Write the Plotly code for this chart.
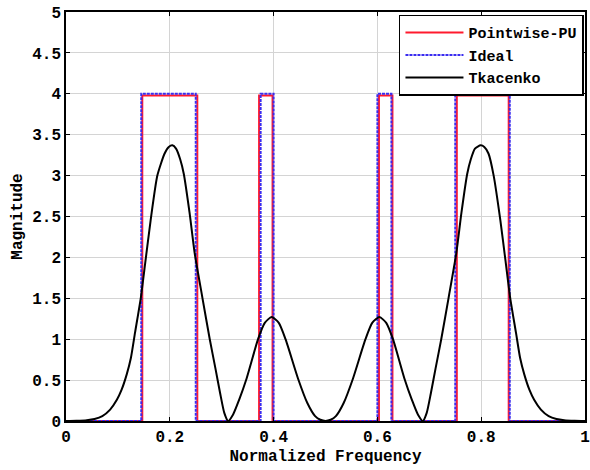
import plotly.graph_objects as go

# Ideal filter (step edges, 'hv' shape)
ideal_f = [0, 0.145, 0.25, 0.375, 0.4, 0.6, 0.627, 0.75, 0.855, 1.0]
ideal_mag = [0, 4, 0, 4, 0, 4, 0, 4, 0, 0]

# Pointwise-PU filter
pw_f = [0, 0.147, 0.253, 0.372, 0.398, 0.603, 0.629, 0.753, 0.853, 1.0]
pw_mag = [0, 3.98, 0, 3.98, 0, 3.98, 0, 3.98, 0, 0]

# Tkacenko response
tk_f = [0, 0.02, 0.04, 0.055, 0.07, 0.085, 0.098, 0.107, 0.117, 0.125, 0.133,
        0.144, 0.153, 0.163, 0.176, 0.19, 0.198, 0.205, 0.212, 0.22, 0.227,
        0.238, 0.248, 0.263, 0.277, 0.288, 0.297, 0.305, 0.3125,
        0.322, 0.333, 0.348, 0.37, 0.383, 0.396, 0.41, 0.423,
        0.447, 0.465, 0.48, 0.49, 0.5, 0.51, 0.52, 0.535, 0.553, 0.577, 0.59, 0.604,
        0.617, 0.63, 0.652, 0.667, 0.678, 0.6875,
        0.695, 0.703, 0.712, 0.723, 0.737, 0.752, 0.762, 0.773, 0.78, 0.788,
        0.799, 0.806, 0.814, 0.824, 0.837, 0.847, 0.856, 0.867, 0.875, 0.883,
        0.893, 0.902, 0.915, 0.93, 0.945, 0.96, 0.98, 1.0]
tk_mag = [0, 0.003, 0.01, 0.025, 0.06, 0.14, 0.26, 0.38, 0.57, 0.77, 1.08,
          1.5, 1.95, 2.45, 3.0, 3.27, 3.35, 3.37, 3.33, 3.2, 3.02,
          2.55, 2.05, 1.5, 1.0, 0.64, 0.34, 0.1, 0.0,
          0.08, 0.25, 0.52, 1.0, 1.2, 1.27, 1.2, 1.0,
          0.52, 0.22, 0.06, 0.015, 0.0, 0.015, 0.06, 0.22, 0.52, 1.0, 1.2, 1.27,
          1.2, 1.0, 0.52, 0.25, 0.08, 0.0,
          0.1, 0.34, 0.64, 1.0, 1.5, 2.05, 2.55, 3.02, 3.2, 3.33,
          3.37, 3.35, 3.27, 3.0, 2.45, 1.95, 1.5, 1.08, 0.77, 0.57,
          0.38, 0.26, 0.14, 0.06, 0.025, 0.01, 0.003, 0]

x_ticks = [0, 0.2, 0.4, 0.6, 0.8, 1]
x_labels = ["0", "0.2", "0.4", "0.6", "0.8", "1"]
y_ticks = [0, 0.5, 1, 1.5, 2, 2.5, 3, 3.5, 4, 4.5, 5]
y_labels = ["0", "0.5", "1", "1.5", "2", "2.5", "3", "3.5", "4", "4.5", "5"]

FONT = "Liberation Mono, Courier New, monospace"
FS = 16

fig = go.Figure()
fig.add_trace(go.Scatter(x=pw_f, y=pw_mag, mode="lines", name="Pointwise-PU",
                         line=dict(color="#ff1a2e", width=2, shape="hv")))
fig.add_trace(go.Scatter(x=ideal_f, y=ideal_mag, mode="lines", name="Ideal",
                         line=dict(color="#3a2cf0", width=2, shape="hv", dash="3px,1px")))
fig.add_trace(go.Scatter(x=tk_f, y=tk_mag, mode="lines", name="Tkacenko",
                         line=dict(color="black", width=2, shape="spline", smoothing=0.6)))

axis_common = dict(showline=True, linecolor="black", linewidth=1.5, mirror="ticks",
                   ticks="inside", ticklen=4, tickcolor="black", tickwidth=1,
                   showgrid=True, gridcolor="#d4d4d4", gridwidth=1, zeroline=False,
                   automargin=False,
                   tickfont=dict(family=FONT, size=FS, color="black", weight="bold"))

fig.update_layout(
    width=590, height=470,
    margin=dict(l=66, r=5, t=12, b=49),
    paper_bgcolor="white", plot_bgcolor="white",
    showlegend=True,
    legend=dict(x=0.998, y=0.993, xanchor="right", yanchor="top",
                bgcolor="white", bordercolor="black", borderwidth=1.5,
                font=dict(family=FONT, size=15, color="black", weight="bold"),
                tracegroupgap=0, itemwidth=58),
)
fig.update_xaxes(range=[0, 1], tickvals=x_ticks, ticktext=x_labels,
                 title=dict(text="Normalized Frequency", standoff=4,
                            font=dict(family=FONT, size=FS, color="black", weight="bold")),
                 **axis_common)
fig.update_yaxes(range=[0, 5], tickvals=y_ticks, ticktext=y_labels,
                 title=dict(text="Magnitude", standoff=6,
                            font=dict(family=FONT, size=FS, color="black", weight="bold")),
                 **axis_common)

fig.write_html("out.html", config={"displayModeBar": False},
               post_script="document.body.style.margin='0';document.body.style.overflow='hidden';")
